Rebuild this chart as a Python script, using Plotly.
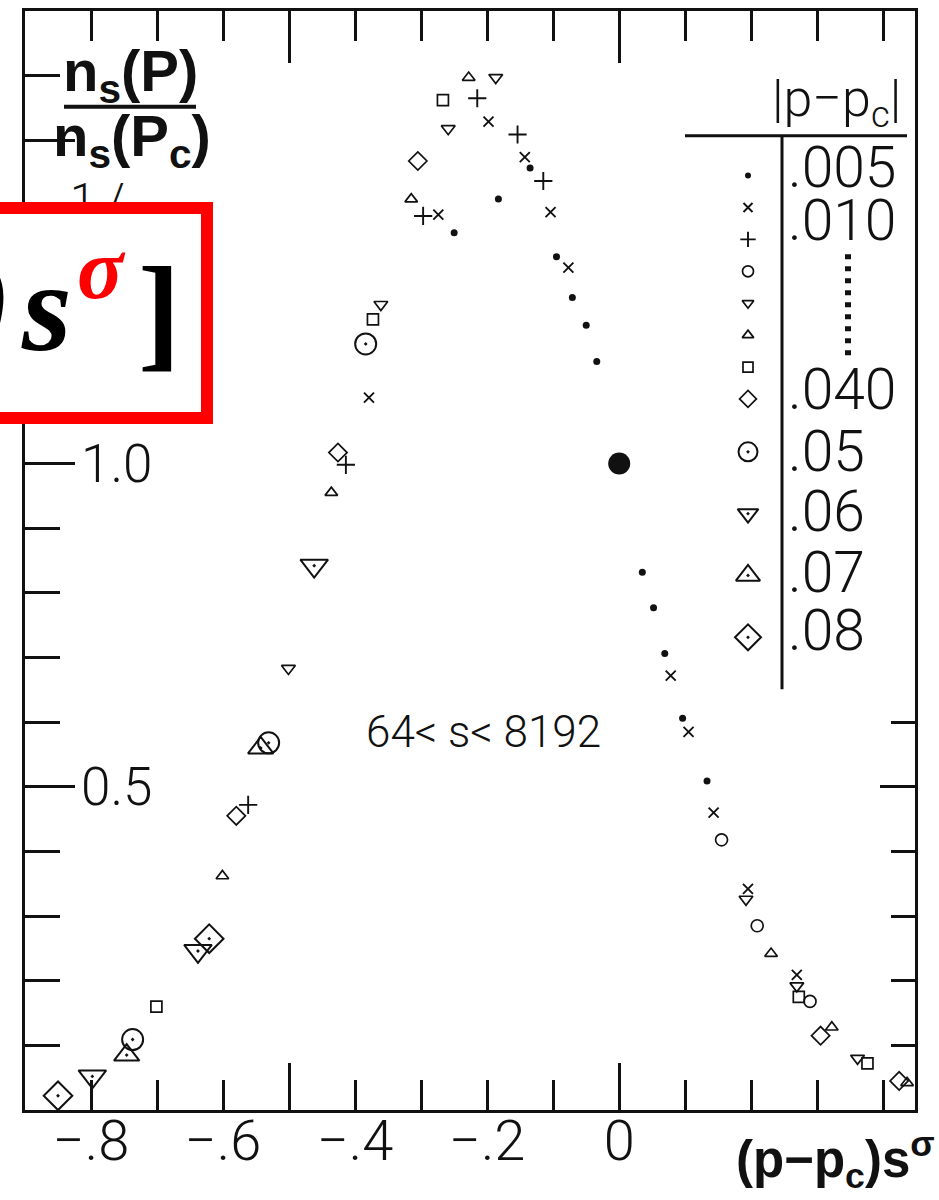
import plotly.graph_objects as go

# ---------------- data ----------------
# |p - pc| = .005  (small dots)
x_005 = [-0.250, -0.183, -0.135, -0.095, -0.071, -0.050, -0.034, 0.035, 0.052, 0.069, 0.096, 0.133]
y_005 = [1.357, 1.409, 1.457, 1.320, 1.257, 1.214, 1.158, 0.832, 0.777, 0.706, 0.606, 0.509]
# .010 (x)
x_010 = [-0.198, -0.143, -0.274, -0.104, -0.077, -0.379, 0.078, 0.105, 0.143, 0.195, 0.269]
y_010 = [1.529, 1.474, 1.385, 1.389, 1.303, 1.102, 0.672, 0.585, 0.460, 0.342, 0.209]
# .015 (+)
x_015 = [-0.215, -0.154, -0.115, -0.297, -0.414, -0.562]
y_015 = [1.565, 1.509, 1.437, 1.383, 0.998, 0.472]
# .020 (open circle)
x_020 = [0.155, 0.209, 0.289]
y_020 = [0.418, 0.285, 0.168]
# .025 (triangle down)
x_025 = [-0.187, -0.259, -0.361, -0.501, 0.192, 0.269, 0.361]
y_025 = [1.597, 1.518, 1.246, 0.683, 0.326, 0.192, 0.080]
# .030 (triangle up)
x_030 = [-0.228, -0.315, -0.436, -0.601, 0.230, 0.322, 0.436]
y_030 = [1.597, 1.409, 0.955, 0.362, 0.242, 0.128, 0.042]
# .035 (square)
x_035 = [-0.267, -0.373, -0.701, 0.272, 0.376]
y_035 = [1.562, 1.223, 0.160, 0.175, 0.072]
# .040 (diamond)
x_040 = [-0.305, -0.426, -0.580, 0.305, 0.424]
y_040 = [1.468, 1.017, 0.455, 0.115, 0.045]
# .05 (circle with dot)
x_05 = [-0.384, -0.531, -0.737]
y_05 = [1.185, 0.568, 0.109]
# .06 (triangle down with dot)
x_06 = [-0.462, -0.638, -0.798]
y_06 = [0.842, 0.246, 0.052]
# .07 (triangle up with dot)
x_07 = [-0.543, -0.746]
y_07 = [0.560, 0.085]
# .08 (diamond with dot)
x_08 = [-0.621, -0.850]
y_08 = [0.265, 0.022]
# normalisation point
x_ref = [0.0]
y_ref = [1.0]

legend_labels = [".005", ".010", "", "", "", "", "", ".040", ".05", ".06", ".07", ".08"]
x_ticklabels = ["−.8", "−.6", "−.4", "−.2", "0"]
x_tickvals = [-0.8, -0.6, -0.4, -0.2, 0.0]
y_tickvals = [0.5, 1.0]
y_ticktext = ["0.5", "1.0"]

# ---------------- styles ----------------
INK = "#111111"
series = [
    (x_005, y_005, "circle", 7, 0),
    (x_010, y_010, "x-thin-open", 10, 1.9),
    (x_015, y_015, "cross-thin-open", 13, 1.9),
    (x_020, y_020, "circle-open", 12, 1.7),
    (x_025, y_025, "triangle-down-open", 12, 1.7),
    (x_030, y_030, "triangle-up-open", 11, 1.7),
    (x_035, y_035, "square-open", 11, 1.7),
    (x_040, y_040, "diamond-open", 14, 1.7),
    (x_05, y_05, "circle-open-dot", 21, 2),
    (x_06, y_06, "triangle-down-open-dot", 24, 2),
    (x_07, y_07, "triangle-up-open-dot", 22, 2),
    (x_08, y_08, "diamond-open-dot", 22, 2),
]
legend_sizes = [6, 9, 11, 11, 10, 10, 10, 13, 19, 18, 21, 20]

fig = go.Figure()
for xs, ys, sym, size, lw in series:
    fig.add_trace(go.Scatter(
        x=xs, y=ys, mode="markers", showlegend=False, cliponaxis=False,
        marker=dict(symbol=sym, size=size, color=INK, line=dict(color=INK, width=lw)),
    ))
fig.add_trace(go.Scatter(x=x_ref, y=y_ref, mode="markers", showlegend=False,
                         marker=dict(symbol="circle", size=22, color=INK)))

# dummy traces so that the extra tick axes are drawn
fig.add_trace(go.Scatter(x=[], y=[], xaxis="x3", yaxis="y", showlegend=False))
fig.add_trace(go.Scatter(x=[], y=[], xaxis="x4", yaxis="y", showlegend=False))
fig.add_trace(go.Scatter(x=[], y=[], xaxis="x", yaxis="y2", showlegend=False))
fig.add_trace(go.Scatter(x=[], y=[], xaxis="x", yaxis="y6", showlegend=False))

# ---------------- custom legend (pixel-space overlay axes x5/y5) ----------------
def legend_row_y(i):
    return 173 + 32 * i if i < 8 else 450 + 62 * (i - 8)

LEG_X = 748
for i, ((xs, ys, sym, size, lw), lsize) in enumerate(zip(series, legend_sizes)):
    fig.add_trace(go.Scatter(
        x=[LEG_X], y=[legend_row_y(i)], xaxis="x5", yaxis="y5", mode="markers",
        showlegend=False,
        marker=dict(symbol=sym, size=lsize, color=INK, line=dict(color=INK, width=max(lw, 1.5) if lw else 0)),
    ))

label_y = [165, 218, None, None, None, None, None, 388, 450, 510, 571, 629]
THIN = dict(family="Roboto", color=INK, weight=300)


def px_to_paper(px, py):
    return (px - 25) / 890, (1110 - py) / 1102


annotations = []
for txt, ly in zip(legend_labels, label_y):
    if txt:
        annotations.append(dict(x=786, y=ly, xref="x5", yref="y5", text=txt, showarrow=False,
                                xanchor="left", yanchor="middle", font=dict(size=57, **THIN)))

# header |p - pc|
annotations.append(dict(x=836, y=99, xref="x5", yref="y5", text="|p−p<sub>c</sub>|", showarrow=False,
                        xanchor="center", yanchor="middle", font=dict(size=52, **THIN)))
# size range
annotations.append(dict(x=483, y=731, xref="x5", yref="y5", text="64< s< 8192", showarrow=False,
                        xanchor="center", yanchor="middle", font=dict(size=44, **THIN)))
# y label (fraction)
BOLD = dict(family="Liberation Sans", color=INK, weight=700)
annotations.append(dict(x=130, y=72, xref="x5", yref="y5", text="n<sub>s</sub>(P)", showarrow=False,
                        xanchor="center", yanchor="middle", font=dict(size=58, **BOLD)))
annotations.append(dict(x=132, y=137, xref="x5", yref="y5", text="n<sub>s</sub>(P<sub>c</sub>)", showarrow=False,
                        xanchor="center", yanchor="middle", font=dict(size=58, **BOLD)))
# partially hidden label
annotations.append(dict(x=97, y=198, xref="x5", yref="y5", text="1./", showarrow=False,
                        xanchor="center", yanchor="middle", font=dict(size=46, **THIN)))
# x-axis title (outside the plot area -> paper coordinates)
tx, ty = px_to_paper(937, 1160)
annotations.append(dict(x=tx, y=ty, xref="paper", yref="paper",
                        text="<b>(p−p<sub>c</sub>)s<sup>σ</sup></b>", showarrow=False,
                        xanchor="right", yanchor="middle", font=dict(size=51, family="Liberation Sans", color=INK)))

# red overlay box (empty box first, then its pieces of formula)
annotations.append(dict(
    x=213, y=200, xref="x5", yref="y5", xanchor="right", yanchor="top",
    text="\u00a0", showarrow=False, width=262, height=198,
    bgcolor="white", bordercolor="#ff0000", borderwidth=12, borderpad=0,
    font=dict(size=20, color="white"),
))
SERIF = "Liberation Serif"
for txt, (px, py), anchor, size, color in [
    ("<b><i>(p−p<sub>c</sub>)</i></b>", (14, 309), "right", 128, "black"),
    ("<b><i>s</i></b>", (46, 305), "center", 128, "black"),
    ("<b><i>σ</i></b>", (101, 267), "center", 86, "#ff0000"),
    ("<b>]</b>", (159, 309), "center", 128, "black"),
]:
    ax_, ay_ = px_to_paper(px, py)
    annotations.append(dict(x=ax_, y=ay_, xref="paper", yref="paper", text=txt, showarrow=False,
                            xanchor=anchor, yanchor="middle",
                            font=dict(size=size, family=SERIF, color=color)))

shapes = [
    # fraction bar of the y label
    dict(type="line", xref="x5", yref="y5", x0=64, x1=196, y0=104, y1=104, line=dict(color=INK, width=4)),
    # legend rules
    dict(type="line", xref="x5", yref="y5", x0=685, x1=907, y0=133, y1=133, line=dict(color=INK, width=3)),
    dict(type="line", xref="x5", yref="y5", x0=782, x1=782, y0=133, y1=688, line=dict(color=INK, width=3)),
    dict(type="line", xref="x5", yref="y5", x0=848, x1=848, y0=252, y1=358,
         line=dict(color=INK, width=6, dash="5px,7px")),
]

AX = dict(showgrid=False, zeroline=False, tickcolor=INK, tickwidth=3)
XR = [-0.9, 0.448]
YR = [0.0, 1.7]
minor_x = [round(-0.8 + 0.1 * i, 1) for i in range(13)]
minor_y = [round(0.1 * i, 1) for i in range(1, 17)]

fig.update_layout(
    width=939, height=1200, margin=dict(l=25, r=24, t=8, b=90),
    paper_bgcolor="white", plot_bgcolor="white", showlegend=False,
    xaxis=dict(range=XR, showline=True, linewidth=3, linecolor=INK, mirror=True,
               ticks="inside", tickvals=x_tickvals, ticktext=x_ticklabels, ticklen=30,
               tickfont=dict(size=56, **THIN), ticklabelstandoff=-20,
               minor=dict(tickvals=minor_x, ticklen=30, tickcolor=INK, tickwidth=3, ticks="inside"), **AX),
    xaxis3=dict(range=XR, overlaying="x", anchor="y", side="bottom", ticks="inside",
                tickvals=[-0.5, 0.0], ticklen=47, showticklabels=False, showline=False, **AX),
    xaxis4=dict(range=XR, overlaying="x", anchor="y", side="top", ticks="inside",
                tickvals=[-0.5, 0.0], ticklen=52, showticklabels=False, showline=False,
                minor=dict(tickvals=minor_x, ticklen=30, tickcolor=INK, tickwidth=3, ticks="inside"), **AX),
    yaxis=dict(range=YR, showline=True, linewidth=3, linecolor=INK, mirror=True,
               ticks="inside", tickvals=[0.5, 1.0, 1.5], ticklen=50, showticklabels=False,
               minor=dict(tickvals=minor_y, ticklen=35, tickcolor=INK, tickwidth=3, ticks="inside"), **AX),
    yaxis6=dict(range=YR, overlaying="y", anchor="free", position=(80 - 25) / 890, side="right",
                tickvals=y_tickvals, ticktext=y_ticktext, ticks="", showline=False,
                tickfont=dict(size=53, **THIN), **AX),
    yaxis2=dict(range=YR, overlaying="y", anchor="x", side="right", ticks="inside",
                tickvals=[0.5], ticklen=35, showticklabels=False, showline=False,
                minor=dict(tickvals=[0.1, 0.2, 0.3, 0.4, 0.6], ticklen=24, tickcolor=INK, tickwidth=3, ticks="inside"), **AX),
    xaxis5=dict(range=[25, 915], overlaying="x", anchor="y5", visible=False, **AX),
    yaxis5=dict(range=[1110, 8], overlaying="y", anchor="x5", visible=False, **AX),
    annotations=annotations, shapes=shapes,
)

fig.write_html("out.html")
